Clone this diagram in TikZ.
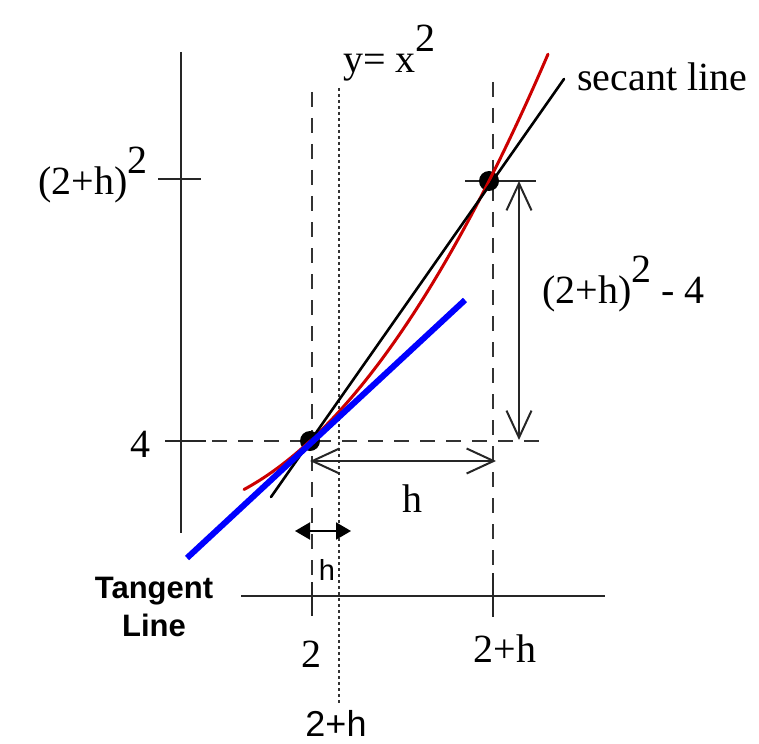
\documentclass[tikz,border=0pt]{standalone}
\usepackage{fontspec}
\setmainfont{Liberation Serif}
\setsansfont{Liberation Sans}
\usetikzlibrary{arrows.meta}
\newcommand\supTwo{\raisebox{21pt}{2}}
\begin{document}
\begin{tikzpicture}[x=1pt,y=-1pt,
  axis/.style={line width=2.2pt,black!85},
  dashline/.style={line width=2pt,black!80,dash pattern=on 15pt off 11pt},
  dotline/.style={line width=1.4pt,black!80,dash pattern=on 3pt off 3pt},
  lbl/.style={inner sep=0pt,font=\fontsize{40}{40}\selectfont},
  slbl/.style={inner sep=0pt,font=\sffamily\fontsize{36}{36}\selectfont},
  dim/.style={line width=2pt,black!85,{Straight Barb[length=27pt,width=25pt]}-{Straight Barb[length=27pt,width=25pt]}},
  smalldim/.style={line width=2pt,black,{Triangle[length=15pt,width=17pt]}-{Triangle[length=15pt,width=17pt]}},
  dot/.style={circle,fill=black,inner sep=0pt,minimum size=20pt}
]
\useasboundingbox (0,0) rectangle (759,743);
% key coordinates
\coordinate (P) at (310,441);
\coordinate (Q) at (489,181);
% axes
\coordinate (yaxT) at (181,52);
\coordinate (yaxB) at (181,533);
\draw[axis] (yaxT) -- (yaxB);
\coordinate (xaxL) at (241,596);
\coordinate (xaxR) at (605,596);
\draw[axis] (xaxL) -- (xaxR);
% ticks on y axis
\coordinate (t1L) at (158,179); \coordinate (t1R) at (201,179);
\draw[axis] (t1L) -- (t1R);
\coordinate (t2L) at (165,441); \coordinate (t2R) at (206,441);
\draw[axis] (t2L) -- (t2R);
% ticks on x axis
\coordinate (x1T) at (312,582); \coordinate (x1B) at (312,616);
\draw[axis] (x1T) -- (x1B);
\coordinate (x2T) at (493,573); \coordinate (x2B) at (493,617);
\draw[axis] (x2T) -- (x2B);
% dashed guides
\coordinate (d1T) at (312,92);
\draw[dashline] (d1T) -- (x1T);
\coordinate (d2T) at (493,82);
\draw[dashline] (d2T) -- (x2T);
\coordinate (hdR) at (539,441);
\draw[dashline,dash phase=-6pt] (t2R) -- (hdR);
% dotted guide at 2+h
\coordinate (dotT) at (339,88);
\coordinate (dotB) at (339,704);
\draw[dotline] (dotT) -- (dotB);
% tick at upper point
\coordinate (qtL) at (465,181); \coordinate (qtR) at (536,181);
\draw[axis] (qtL) -- (qtR);
% dimension arrows
\coordinate (vaT) at (519,181); \coordinate (vaB) at (519,440);
\draw[dim] (vaT) -- (vaB);
\coordinate (haL) at (310,461); \coordinate (haR) at (496,461);
\draw[dim] (haL) -- (haR);
\coordinate (saL) at (295,531); \coordinate (saR) at (351,531);
\draw[smalldim] (saL) -- (saR);
% points
\node[dot] (Pd) at (P) {};
\node[dot] (Qd) at (Q) {};
% curve y = x^2
\draw[line width=3pt,red!80!black,line cap=round] plot[domain=-66:238,samples=80] ({310+\x},{441-0.928*\x-0.00293*\x*\x});
% secant line
\coordinate (sA) at (271,497);
\coordinate (sB) at (564,79);
\draw[line width=2.6pt,black,line cap=round] (sA) -- (sB);
% tangent line
\coordinate (tA) at (187,558);
\coordinate (tB) at (465,300);
\draw[line width=6pt,blue] (tA) -- (tB);
% labels
\node[lbl,anchor=base west] (fx) at (343,73) {y= x\supTwo};
\node[lbl,anchor=base west] (sec) at (577,91) {secant line};
\node[lbl,anchor=base east] (yq) at (148,195) {(2+h)\supTwo};
\node[lbl,anchor=base east] (yp) at (151,457) {4};
\node[lbl,anchor=base west] (dy) at (542,303) {(2+h)\supTwo{} - 4};
\node[lbl,anchor=base] (dx) at (412,512) {h};
\node[lbl,anchor=base] (x2) at (311,667) {2};
\node[lbl,anchor=base] (x2h) at (505,662) {2+h};
\node[slbl,anchor=base] (x2hs) at (336,736) {2+h};
\node[inner sep=0pt,font=\sffamily\fontsize{29}{29}\selectfont,anchor=base] (hs) at (327,580) {h};
\node[inner sep=0pt,font=\sffamily\bfseries\fontsize{31}{38}\selectfont,align=center,anchor=north] (tl) at (154,577) {Tangent\\Line};
\end{tikzpicture}
\end{document}
